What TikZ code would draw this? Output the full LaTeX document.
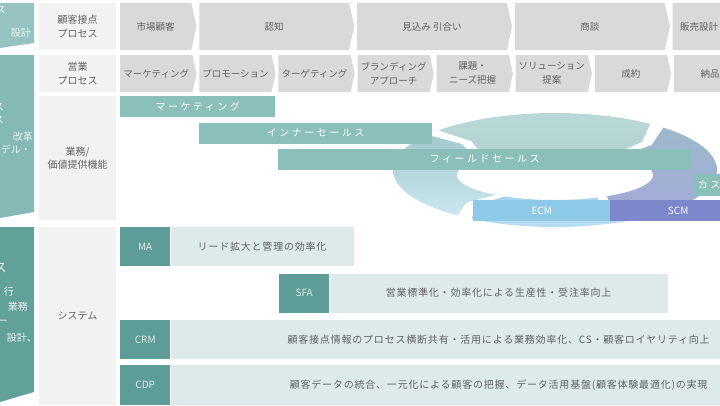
\documentclass[tikz,border=0pt]{standalone}
\usepackage{fontspec}
\setmainfont{Noto Sans CJK JP}
\newfontfamily\widefont[LetterSpace=25]{Noto Sans CJK JP}
\newfontfamily\descfont[LetterSpace=8]{Noto Sans CJK JP}
\usetikzlibrary{shapes.symbols, positioning}
\definecolor{bandtop}{HTML}{94C3C0}
\definecolor{bandmid}{HTML}{84B9B5}
\definecolor{bandlow}{HTML}{62A09A}
\definecolor{labelbg}{HTML}{F2F2F2}
\definecolor{chevbg}{HTML}{D9D9D9}
\definecolor{txtgray}{HTML}{616161}
\definecolor{barteal}{HTML}{8ABFBA}
\definecolor{sysdark}{HTML}{5E9C97}
\definecolor{syslight}{HTML}{DDEAE9}
\definecolor{ecmblue}{HTML}{8ECAE8}
\definecolor{scmblue}{HTML}{7C87CC}
\definecolor{ringtop}{HTML}{B9D8D7}
\definecolor{ringtopb}{HTML}{B3D4D3}
\definecolor{ringright}{HTML}{9DB9CB}
\definecolor{ringrightb}{HTML}{A4A9D9}
\definecolor{ringbottom}{HTML}{A9D4EC}
\definecolor{ringbottomb}{HTML}{B8DDF0}
\definecolor{ringleft}{HTML}{A2CACD}
\definecolor{ringleftb}{HTML}{CBE6EF}
\tikzset{
    rowlabel/.style={
        rectangle, fill=labelbg, minimum width=77pt, inner sep=0pt,
        align=center, text=txtgray, font=\fontsize{10}{14}\selectfont
    },
    chevron/.style={
        signal, signal to=east, signal pointer angle=155, fill=chevbg,
        inner sep=0pt, anchor=west, align=center, text=txtgray,
        font=\fontsize{9.5}{14}\selectfont
    },
    funcbar/.style={
        rectangle, fill=barteal, inner sep=0pt, anchor=west,
        minimum height=21pt, text=white, font=\widefont\fontsize{10}{12}\selectfont
    },
    sysname/.style={
        rectangle, fill=sysdark, inner sep=0pt, anchor=west, minimum width=50pt,
        minimum height=39pt, text=white!80!sysdark, font=\fontsize{10}{12}\selectfont
    },
    sysdesc/.style={
        rectangle, fill=syslight, inner sep=0pt, minimum height=39pt,
        text=txtgray, font=\descfont\fontsize{10}{12}\selectfont
    },
    bandtext/.style={
        anchor=east, inner sep=0pt, text=white!85!bandmid,
        font=\fontsize{10}{12}\selectfont
    }
}

\begin{document}
\begin{tikzpicture}[x=1pt, y=-1pt]
    \useasboundingbox (0,0) rectangle (720,405);
    \clip (0,0) rectangle (720,405);

    % ── Left bands ──
    \fill[bandtop] (0,3) -- (34,3) -- (34,43) -- (0,48) -- cycle;
    \fill[bandmid] (0,55) -- (34,55) -- (34,212) -- (0,218) -- cycle;
    \fill[bandlow] (0,227) -- (34,227) -- (34,392) -- (0,402) -- cycle;
    \node[bandtext] (tA1) at (6,10)   {ス};
    \node[bandtext] (tA2) at (31,33)  {設計};
    \node[bandtext] (tB1) at (4,107)  {ス};
    \node[bandtext] (tB2) at (4,120)  {ス};
    \node[bandtext] (tB3) at (33,137) {改革};
    \node[bandtext] (tB4) at (31,150) {デル・};
    \node[bandtext, font=\fontsize{13}{14}\selectfont] (tC1) at (7,268) {ス};
    \node[bandtext] (tC2) at (14,292) {行};
    \node[bandtext] (tC3) at (28,307) {業務};
    \node[bandtext] (tC4) at (8,322)  {ー};
    \node[bandtext] (tC5) at (37,338) {設計、};

    % ── Row labels ──
    \node[rowlabel, minimum height=47pt]  (lblTouch) at (77.5,26.5) {顧客接点\\プロセス};
    \node[rowlabel, minimum height=37pt]  (lblSales) at (77.5,73.5) {営業\\プロセス};
    \node[rowlabel, minimum height=124pt, font=\fontsize{10}{13}\selectfont]
        (lblFunc) at (77.5,158) {業務/\\価値提供機能};
    \node[rowlabel, minimum height=178pt] (lblSys)   at (77.5,316)  {システム};

    % ── Customer touch points ──
    \node[chevron, minimum width=76.3pt, minimum height=47pt] (cMarket) at (120,26.5) {市場顧客};
    \node[chevron, minimum width=155pt, minimum height=47pt, right=2.4pt of cMarket] (cAware) {認知};
    \node[chevron, minimum width=155pt, minimum height=47pt, right=2.4pt of cAware]  (cLead)  {見込み 引合い};
    \node[chevron, minimum width=155pt, minimum height=47pt, right=2.4pt of cLead]   (cDeal)  {商談};
    \node[chevron, minimum width=58pt, minimum height=47pt, right=2.4pt of cDeal]    (cDesign) {販売設計};

    % ── Sales process ──
    \node[chevron, minimum width=76.3pt, minimum height=37pt] (pMkt) at (120,73.5) {マーケティング};
    \node[chevron, minimum width=76.3pt, minimum height=37pt, right=2.4pt of pMkt]    (pPromo)  {プロモーション};
    \node[chevron, minimum width=76.3pt, minimum height=37pt, right=2.4pt of pPromo]  (pTarget) {ターゲティング};
    \node[chevron, minimum width=76.3pt, minimum height=37pt, right=2.4pt of pTarget] (pBrand)  {ブランディング\\アプローチ};
    \node[chevron, minimum width=76.3pt, minimum height=37pt, right=2.4pt of pBrand]  (pNeeds)  {課題・\\ニーズ把握};
    \node[chevron, minimum width=76.3pt, minimum height=37pt, right=2.4pt of pNeeds]  (pSolve)  {ソリューション\\提案};
    \node[chevron, minimum width=76.3pt, minimum height=37pt, right=2.4pt of pSolve]  (pClose)  {成約};
    \node[chevron, minimum width=76.3pt, minimum height=37pt, right=2.4pt of pClose]  (pShip)   {納品};

    % ── Value cycle ──
    \foreach \a/\b/\c/\d in {127/218/ringleft/ringleftb, 224/306/ringtop/ringtopb,
                             312/418/ringright/ringrightb, 424/481/ringbottom/ringbottomb}{
        \shade[top color=\c, bottom color=\d]
            plot[domain=\a:\b, samples=40] ({555+162*cos(\x)},{170+57*sin(\x)})
            -- ({555+130*cos(\b+6)},{172.5+41*sin(\b+6)})
            -- plot[domain=\b:\a, samples=40] ({555+98*cos(\x)},{175+25*sin(\x)})
            -- ({555+130*cos(\a+6)},{172.5+41*sin(\a+6)}) -- cycle;
    }

    % ── Functions ──
    \node[funcbar, minimum width=155pt] (fMkt)   at (120,106.5) {マーケティング};
    \node[funcbar, minimum width=233pt] (fInner) at (199,133)   {インナーセールス};
    \node[funcbar, minimum width=413pt] (fField) at (278,159)   {フィールドセールス};
    \node[funcbar, minimum width=119pt, minimum height=22pt] (fCS) at (693,184.5) {カスタマーサクセス};
    \node[funcbar, fill=ecmblue, minimum width=137pt, font=\fontsize{10}{12}\selectfont] (fECM) at (473,210.5) {ECM};
    \node[funcbar, fill=scmblue, minimum width=136pt, font=\fontsize{10}{12}\selectfont] (fSCM) at (610,210.5) {SCM};

    % ── Systems ──
    \node[sysname] (sMA) at (120,246.5) {MA};
    \node[sysdesc, minimum width=183pt, right=0pt of sMA] (dMA) {リード拡大と管理の効率化};
    \node[sysname] (sSFA) at (279,293) {SFA};
    \node[sysdesc, minimum width=338pt, right=0pt of sSFA] (dSFA) {営業標準化・効率化による生産性・受注率向上};
    \node[sysname] (sCRM) at (120,339.5) {CRM};
    \node[sysdesc, minimum width=656pt, right=0pt of sCRM] (dCRM)
        {顧客接点情報のプロセス横断共有・活用による業務効率化、CS・顧客ロイヤリティ向上};
    \node[sysname, minimum height=40pt] (sCDP) at (120,385) {CDP};
    \node[sysdesc, minimum width=656pt, minimum height=40pt, right=0pt of sCDP] (dCDP)
        {顧客データの統合、一元化による顧客の把握、データ活用基盤(顧客体験最適化)の実現};

\end{tikzpicture}
\end{document}
